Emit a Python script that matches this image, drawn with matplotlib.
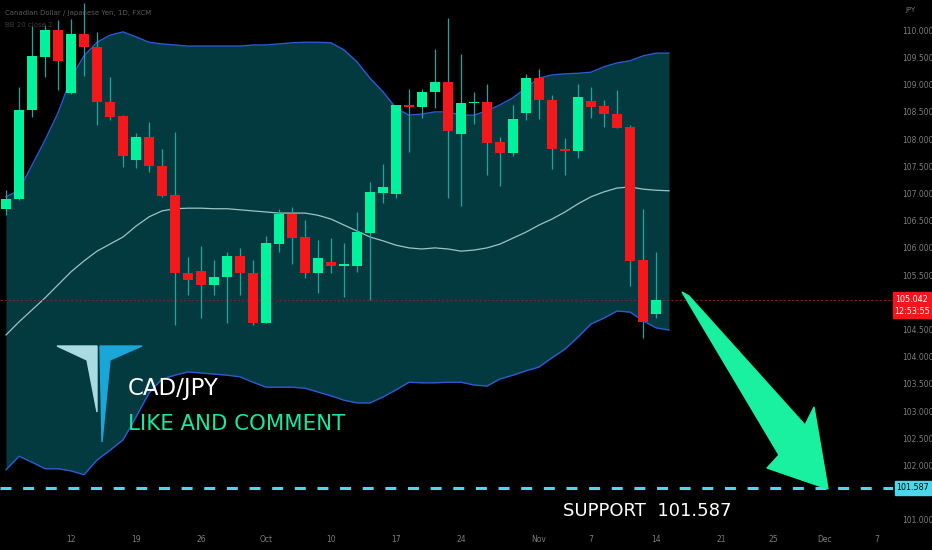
import matplotlib
matplotlib.use("Agg")
import matplotlib.pyplot as plt
from matplotlib.patches import Polygon, Rectangle
import numpy as np

plt.rcParams['lines.scale_dashes'] = False

TITLE = "Canadian Dollar / Japanese Yen, 1D, FXCM"
SUBTITLE = "BB 20 close 2"
PAIR = "CAD/JPY"
CALL = "LIKE AND COMMENT"

# daily candles, Sep 5 -> Nov 14
opens = [106.72, 106.90, 108.54, 109.51, 110.01, 108.85, 109.93, 109.69, 108.68, 108.42,
         107.62, 108.04, 107.51, 106.97, 105.54, 105.58, 105.32, 105.47, 105.85, 105.54,
         104.62, 106.07, 106.62, 106.20, 105.54, 105.74, 105.67, 105.67, 106.27, 107.01,
         106.99, 108.63, 108.59, 108.87, 109.05, 108.09, 108.66, 108.68, 107.95, 107.74,
         108.48, 109.12, 108.72, 107.82, 107.78, 108.70, 108.61, 108.46, 108.22, 105.78,
         104.79]
highs = [107.06, 108.96, 110.08, 110.10, 110.19, 110.21, 110.50, 109.97, 109.14, 108.44,
         108.11, 108.31, 107.82, 108.13, 105.83, 106.04, 105.78, 105.92, 106.00, 105.78,
         106.22, 106.71, 106.75, 106.51, 106.15, 106.18, 106.09, 106.66, 107.21, 107.54,
         108.63, 108.92, 108.92, 109.66, 110.23, 109.56, 108.87, 109.01, 108.04, 108.63,
         109.20, 109.29, 108.81, 108.02, 109.01, 108.96, 108.72, 108.90, 108.26, 106.71,
         105.92]
lows = [106.61, 106.88, 108.41, 109.14, 108.90, 108.83, 109.16, 108.26, 108.35, 107.49,
        107.47, 107.40, 106.94, 104.58, 105.13, 104.71, 105.13, 104.62, 105.13, 104.58,
        104.62, 105.92, 105.70, 105.45, 105.17, 105.54, 105.10, 105.56, 105.04, 106.83,
        106.92, 107.76, 108.39, 108.57, 106.92, 106.77, 108.28, 107.34, 107.14, 107.69,
        108.35, 108.37, 107.45, 107.34, 107.65, 108.39, 108.22, 108.20, 105.30, 104.34,
        104.71]
closes = [106.90, 108.54, 109.53, 110.01, 109.44, 109.93, 109.69, 108.68, 108.41, 107.69,
          108.04, 107.51, 106.95, 105.54, 105.41, 105.32, 105.47, 105.85, 105.54, 104.62,
          106.09, 106.62, 106.18, 105.54, 105.81, 105.67, 105.69, 106.29, 107.03, 107.12,
          108.63, 108.59, 108.87, 109.05, 108.15, 108.66, 108.68, 107.93, 107.74, 108.37,
          109.12, 108.72, 107.82, 107.78, 108.77, 108.59, 108.46, 108.20, 105.76, 104.64,
          105.04]

# Bollinger bands (20, 2)
bb_upper = [106.94, 107.06, 107.52, 107.98, 108.48, 109.12, 109.53, 109.78, 109.91, 109.97,
            109.88, 109.78, 109.75, 109.73, 109.71, 109.71, 109.71, 109.71, 109.71, 109.73,
            109.73, 109.75, 109.77, 109.78, 109.78, 109.77, 109.64, 109.42, 109.12, 108.87,
            108.57, 108.44, 108.46, 108.50, 108.50, 108.44, 108.44, 108.52, 108.63, 108.76,
            108.94, 109.12, 109.18, 109.20, 109.21, 109.23, 109.33, 109.40, 109.44, 109.53,
            109.58, 109.58]
bb_mid = [104.40, 104.64, 104.86, 105.08, 105.32, 105.56, 105.76, 105.94, 106.07, 106.20,
          106.40, 106.57, 106.68, 106.72, 106.73, 106.73, 106.72, 106.72, 106.70, 106.68,
          106.66, 106.64, 106.64, 106.64, 106.60, 106.53, 106.42, 106.31, 106.20, 106.13,
          106.05, 106.00, 105.98, 106.00, 105.98, 105.94, 105.96, 106.00, 106.07, 106.18,
          106.29, 106.42, 106.53, 106.66, 106.81, 106.94, 107.03, 107.10, 107.12, 107.08,
          107.06, 107.05]
bb_lower = [101.92, 102.17, 102.06, 101.94, 101.94, 101.90, 101.83, 102.10, 102.28, 102.47,
            102.89, 103.33, 103.59, 103.66, 103.72, 103.70, 103.68, 103.66, 103.63, 103.53,
            103.44, 103.44, 103.44, 103.42, 103.35, 103.28, 103.20, 103.15, 103.15, 103.26,
            103.39, 103.53, 103.52, 103.52, 103.53, 103.53, 103.48, 103.46, 103.59, 103.66,
            103.74, 103.81, 103.98, 104.14, 104.36, 104.60, 104.71, 104.84, 104.82, 104.66,
            104.53, 104.49]

last_price = 105.042
countdown = "12:53:55"
support = 101.587

x_tick_pos = [5, 10, 15, 20, 25, 30, 35, 41, 45, 50, 55, 59, 63, 67]
x_tick_labels = ["12", "19", "26", "Oct", "10", "17", "24", "Nov", "7", "14", "21", "25", "Dec", "7"]
y_ticks = np.arange(101.0, 110.01, 0.5)
hidden_y = [105.0, 101.5]   # covered by the price / support tags

UP = "#00f29c"
DOWN = "#f2181b"
WICK = "#22a39c"
FILL = "#023a40"
BAND = "#2b5bd2"
MID = "#9cc4c4"
AXIS_TXT = "#7c7c7c"
FONT = ["Liberation Sans Narrow", "DejaVu Sans"]

W, H = 932, 550


def fp(x, y):
    # figure pixel (from top-left) -> figure fraction
    return (x / W, 1 - y / H)


fig = plt.figure(figsize=(W / 100, H / 100), dpi=100, facecolor="black")
ax = fig.add_axes([0, 25 / H, 893 / W, 525 / H])
ax.set_facecolor("black")

# bands
bi = np.arange(len(bb_upper))
ax.fill_between(bi, bb_lower, bb_upper, color=FILL, lw=0, zorder=1)
ax.plot(bi, bb_upper, color=BAND, lw=1, zorder=2)
ax.plot(bi, bb_lower, color=BAND, lw=1, zorder=2)
ax.plot(bi, bb_mid, color=MID, lw=0.9, zorder=2)

# candles
for i, (o, h, l, c) in enumerate(zip(opens, highs, lows, closes)):
    col = UP if c >= o else DOWN
    ax.vlines(i, l, h, color=WICK, lw=0.9, zorder=3)
    ax.bar(i, max(abs(c - o), 0.03), bottom=min(o, c), width=0.77, color=col, lw=0, zorder=4)

ax.axhline(last_price, color="#8a2222", lw=0.7, ls=(0, (1.5, 1.5)), zorder=2.5)
ax.axhline(support, color="#4fd8e8", lw=2.2, dashes=(7.9, 8.4), zorder=5)

ax.set_xlim(-0.4615, 68.23)
ax.set_ylim(100.906, 110.557)
for s in ax.spines.values():
    s.set_visible(False)
ax.yaxis.tick_right()
ylabels = ["" if any(abs(v - hv) < 1e-6 for hv in hidden_y) else f"{v:.3f}" for v in y_ticks]
ax.set_yticks(y_ticks, ylabels)
ax.set_xticks(x_tick_pos, x_tick_labels)
ax.tick_params(axis="y", length=0, pad=6.5, labelsize=5.5, labelcolor=AXIS_TXT)
ax.tick_params(axis="x", length=0, pad=7, labelsize=5.5, labelcolor=AXIS_TXT)

# header
fig.text(*fp(5, 13), TITLE, fontsize=5, color="#5a5a5a", va="center")
fig.text(*fp(5, 25), SUBTITLE, fontsize=5, color="#3c3c3c", va="center")
fig.text(*fp(905, 10), "JPY", fontsize=5, color=AXIS_TXT, va="center")

# logo
fig.add_artist(Polygon([fp(57, 346), fp(97, 346), fp(97, 412), fp(87, 360)],
                       closed=True, color="#a9dbe3", transform=fig.transFigure))
fig.add_artist(Polygon([fp(100, 346), fp(142, 346), fp(110, 360), fp(102, 442)],
                       closed=True, color="#1ba6d8", transform=fig.transFigure))

fig.text(*fp(128, 395), PAIR, fontsize=16.5, color="white", family=FONT, va="baseline")
fig.text(*fp(128, 430), CALL, fontsize=15.3, color="#19e79f", family=FONT, va="baseline")
fig.text(*fp(563, 516), f"SUPPORT  {support:.3f}", fontsize=13, color="white",
         family=FONT, va="baseline")

# arrow
fig.add_artist(Polygon([fp(682, 292), fp(689, 296), fp(805, 425), fp(814, 407),
                        fp(828, 489), fp(767, 468), fp(779, 455)],
                       closed=True, color="#19f0a0", transform=fig.transFigure, zorder=6))

# price labels
fig.add_artist(Rectangle(fp(893, 318), 39 / W, 26 / H, color="#f2171c",
                         transform=fig.transFigure, zorder=7))
fig.text(*fp(912, 299), f"{last_price:.3f}", fontsize=5.8, color="white",
         ha="center", va="center", zorder=8)
fig.text(*fp(912, 311), countdown, fontsize=5.8, color="white",
         ha="center", va="center", zorder=8)
fig.add_artist(Rectangle(fp(895, 495), 36 / W, 14 / H, color="#4cd8ec",
                         transform=fig.transFigure, zorder=7))
fig.text(*fp(913, 488), f"{support:.3f}", fontsize=5.8, color="black",
         ha="center", va="center", zorder=8)

fig.savefig("out.png", dpi=100, facecolor="black")
